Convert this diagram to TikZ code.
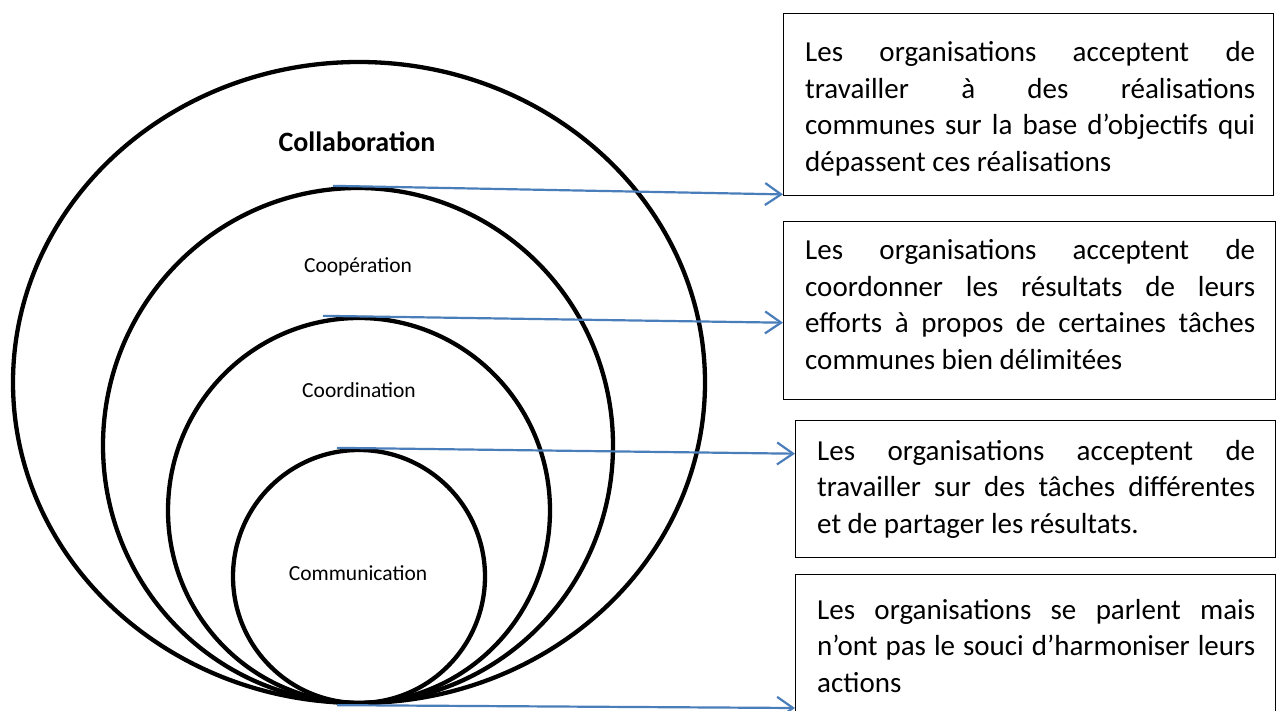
\documentclass[tikz,border=0pt]{standalone}
\usepackage{fontspec}
\setmainfont{Carlito}
\usetikzlibrary{arrows.meta,shapes.geometric}
\definecolor{arrblue}{HTML}{4A7EBB}
\begin{document}
\begin{tikzpicture}[x=1pt,y=-1pt,
  ring/.style={ellipse, draw=black, line width=4.3pt, inner sep=0pt},
  lab/.style={inner sep=0pt, font=\fontsize{21.5}{26}\selectfont},
  tbox/.style={rectangle, draw=black, line width=1.4pt, inner sep=0pt, anchor=north west},
  btext/.style={inner sep=0pt, anchor=base west, align=justify, font=\fontsize{29}{36.5}\selectfont},
  conn/.style={draw=arrblue, line width=2.2pt, -{Straight Barb[length=16pt,width=22pt,line width=2.2pt]}}]
\useasboundingbox (0,0) rectangle (1277,711);
\fill[white] (0,0) rectangle (1277,711);
\clip (0,0) rectangle (1277,711);
% nested rings
\node[ring, minimum width=692pt, minimum height=641pt] (collab) at (359,382.5) {};
\node[ring, minimum width=510pt, minimum height=515pt] (coop) at (358,445.5) {};
\node[ring, minimum width=382pt, minimum height=385pt] (coord) at (359,510.5) {};
\node[ring, minimum width=252pt, minimum height=253pt] (comm) at (359,576.5) {};
% ring labels
\node[lab, font=\bfseries\fontsize{28}{34}\selectfont] (lcollab) at (357,142) {Collaboration};
\node[lab] (lcoop) at (358,267) {Coopération};
\node[lab] (lcoord) at (359,390) {Coordination};
\node[lab] (lcomm) at (358,573) {Communication};
% boxes
\node[tbox, minimum width=490pt, minimum height=182pt] (b1) at (783,13) {};
\node[tbox, minimum width=492pt, minimum height=178pt] (b2) at (783,221) {};
\node[tbox, minimum width=480pt, minimum height=137pt] (b3) at (795,420) {};
\node[tbox, minimum width=480pt, minimum height=170pt] (b4) at (795,574) {};
% box texts
\node[btext, text width=450pt] (t1) at (805,62) {Les organisations acceptent de\linebreak travailler à des réalisations\linebreak communes sur la base d’objectifs qui\linebreak dépassent ces réalisations};
\node[btext, text width=450pt] (t2) at (805,260) {Les organisations acceptent de\linebreak coordonner les résultats de leurs\linebreak efforts à propos de certaines tâches\linebreak communes bien délimitées};
\node[btext, text width=438pt] (t3) at (817,460) {Les organisations acceptent de\linebreak travailler sur des tâches différentes\linebreak et de partager les résultats.};
\node[btext, text width=438pt] (t4) at (817,619) {Les organisations se parlent mais\linebreak n’ont pas le souci d’harmoniser leurs\linebreak actions};
% connectors
\draw[conn] ([xshift=-25pt]coop.north) -- ([yshift=2pt]b1.south west);
\draw[conn] ([xshift=-36pt]coord.north) -- ([yshift=-12pt]b2.west);
\draw[conn] ([xshift=-22pt]comm.north) -- ([yshift=35.5pt]b3.west);
\draw[conn] ([xshift=-22pt]comm.south) -- ([yshift=-134pt]b4.north west);
\end{tikzpicture}
\end{document}
